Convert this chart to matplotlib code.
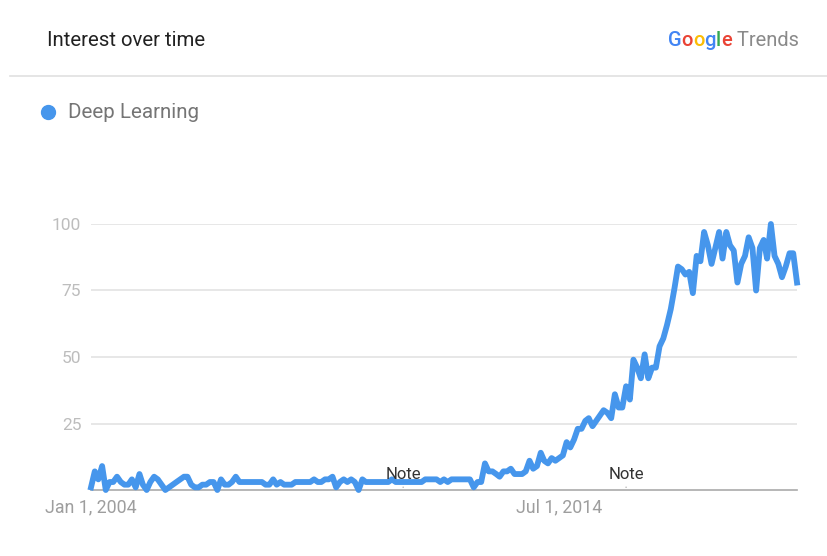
import numpy as np
import pandas as pd
import matplotlib
matplotlib.use('Agg')
import matplotlib.pyplot as plt
from matplotlib.lines import Line2D

plt.rcParams['font.family'] = ['Roboto', 'DejaVu Sans']

# monthly search interest for "Deep Learning", Jan 2004 .. Nov 2019
y2004 = [1, 7, 4, 9, 0, 3, 3, 5, 3, 2, 2, 4]
y2005 = [1, 6, 2, 0, 3, 5, 4, 2, 0, 1, 2, 3]
y2006 = [4, 5, 5, 2, 1, 1, 2, 2, 3, 3, 0, 4]
y2007 = [2, 2, 3, 5, 3, 3, 3, 3, 3, 3, 3, 2]
y2008 = [2, 4, 2, 3, 2, 2, 2, 3, 3, 3, 3, 3]
y2009 = [4, 3, 3, 4, 4, 5, 1, 3, 4, 3, 4, 3]
y2010 = [0, 4, 3, 3, 3, 3, 3, 3, 3, 4, 3, 3]
y2011 = [3, 3, 3, 3, 3, 3, 4, 4, 4, 4, 3, 4]
y2012 = [3, 4, 4, 4, 4, 4, 4, 1, 3, 3, 10, 7]
y2013 = [7, 6, 5, 7, 7, 8, 6, 6, 6, 7, 11, 8]
y2014 = [9, 14, 11, 10, 12, 11, 12, 13, 18, 16, 19, 23]
y2015 = [23, 26, 27, 24, 26, 28, 30, 29, 27, 36, 31, 31]
y2016 = [39, 34, 49, 46, 42, 51, 42, 46, 46, 54, 57, 62]
y2017 = [68, 76, 84, 83, 81, 82, 74, 88, 86, 97, 92, 85]
y2018 = [91, 97, 87, 97, 92, 90, 78, 85, 88, 95, 91, 75]
y2019 = [91, 94, 87, 100, 88, 85, 80, 84, 89, 89, 78]

interest = (y2004 + y2005 + y2006 + y2007 + y2008 + y2009 + y2010 + y2011
            + y2012 + y2013 + y2014 + y2015 + y2016 + y2017 + y2018 + y2019)
months = pd.date_range('2004-01-01', periods=len(interest), freq='MS')

series_name = 'Deep Learning'
y_ticks = [25, 50, 75, 100]
x_tick_dates = pd.to_datetime(['2004-01-01', '2014-07-01'])
x_tick_labels = ['Jan 1, 2004', 'Jul 1, 2014']
note_dates = pd.to_datetime(['2011-01-01', '2016-01-01'])

blue = '#4696ec'

fig = plt.figure(figsize=(8.27, 5.56), dpi=100)
W, H = 827, 556
ax = fig.add_axes([91 / W, 66 / H, 706 / W, 266 / H])

ax.plot(months, interest, color=blue, lw=4.2, clip_on=False, zorder=3)

ax.set_xlim(months[0], months[-1])
ax.set_ylim(0, 100)
ax.set_yticks(y_ticks)
ax.yaxis.grid(True, color='#e0e0e0', lw=1.1)
ax.set_axisbelow(True)
ax.tick_params(axis='y', length=0, pad=7, labelcolor='#bdbdbd', labelsize=12.5)
ax.set_xticks(x_tick_dates, x_tick_labels)
ax.tick_params(axis='x', length=0, pad=6, labelcolor='#9e9e9e', labelsize=12.8)

for side in ['top', 'right', 'left']:
    ax.spines[side].set_visible(False)
ax.spines['bottom'].set_color('#aaaaaa')
ax.spines['bottom'].set_linewidth(1.2)

# annotation markers on the time axis
for d in note_dates:
    ax.annotate('', xy=(d, 0), xycoords=('data', 'axes fraction'),
                xytext=(0, 4), textcoords='offset points',
                arrowprops=dict(arrowstyle='-', color='#9e9e9e', lw=1))
    ax.annotate('Note', xy=(d, 0), xycoords=('data', 'axes fraction'),
                xytext=(0, 5.5), textcoords='offset points',
                ha='center', va='bottom', fontsize=12, color='#333333', zorder=5)

# header
fig.text(47 / W, 1 - 41 / H, 'Interest over time', fontsize=14.7,
         color='#212121', va='center')
fig.add_artist(Line2D([10 / W, 1], [1 - 76 / H] * 2, color='#e0e0e0', lw=1.2))

logo = [('G', '#4285F4'), ('o', '#EA4335'), ('o', '#FBBC05'), ('g', '#4285F4'),
        ('l', '#34A853'), ('e', '#EA4335'), (' Trends', '#8a8a8a')]
t = fig.text(668 / W, 1 - 41 / H, logo[0][0], color=logo[0][1],
             fontsize=14.5, va='center', fontweight='medium')
for ch, c in logo[1:]:
    t = ax.annotate(ch, xy=(1, 0), xycoords=t, va='bottom', ha='left',
                    fontsize=14.5, color=c, annotation_clip=False,
                    fontweight='normal' if ch.strip() == 'Trends' else 'medium')

# legend
fig.add_artist(Line2D([48 / W], [1 - 112 / H], marker='o', markersize=10,
                      color=blue, lw=0))
fig.text(68 / W, 1 - 112 / H, series_name, fontsize=14.8, color='#757575',
         va='center')

fig.savefig('out.png', dpi=100)
